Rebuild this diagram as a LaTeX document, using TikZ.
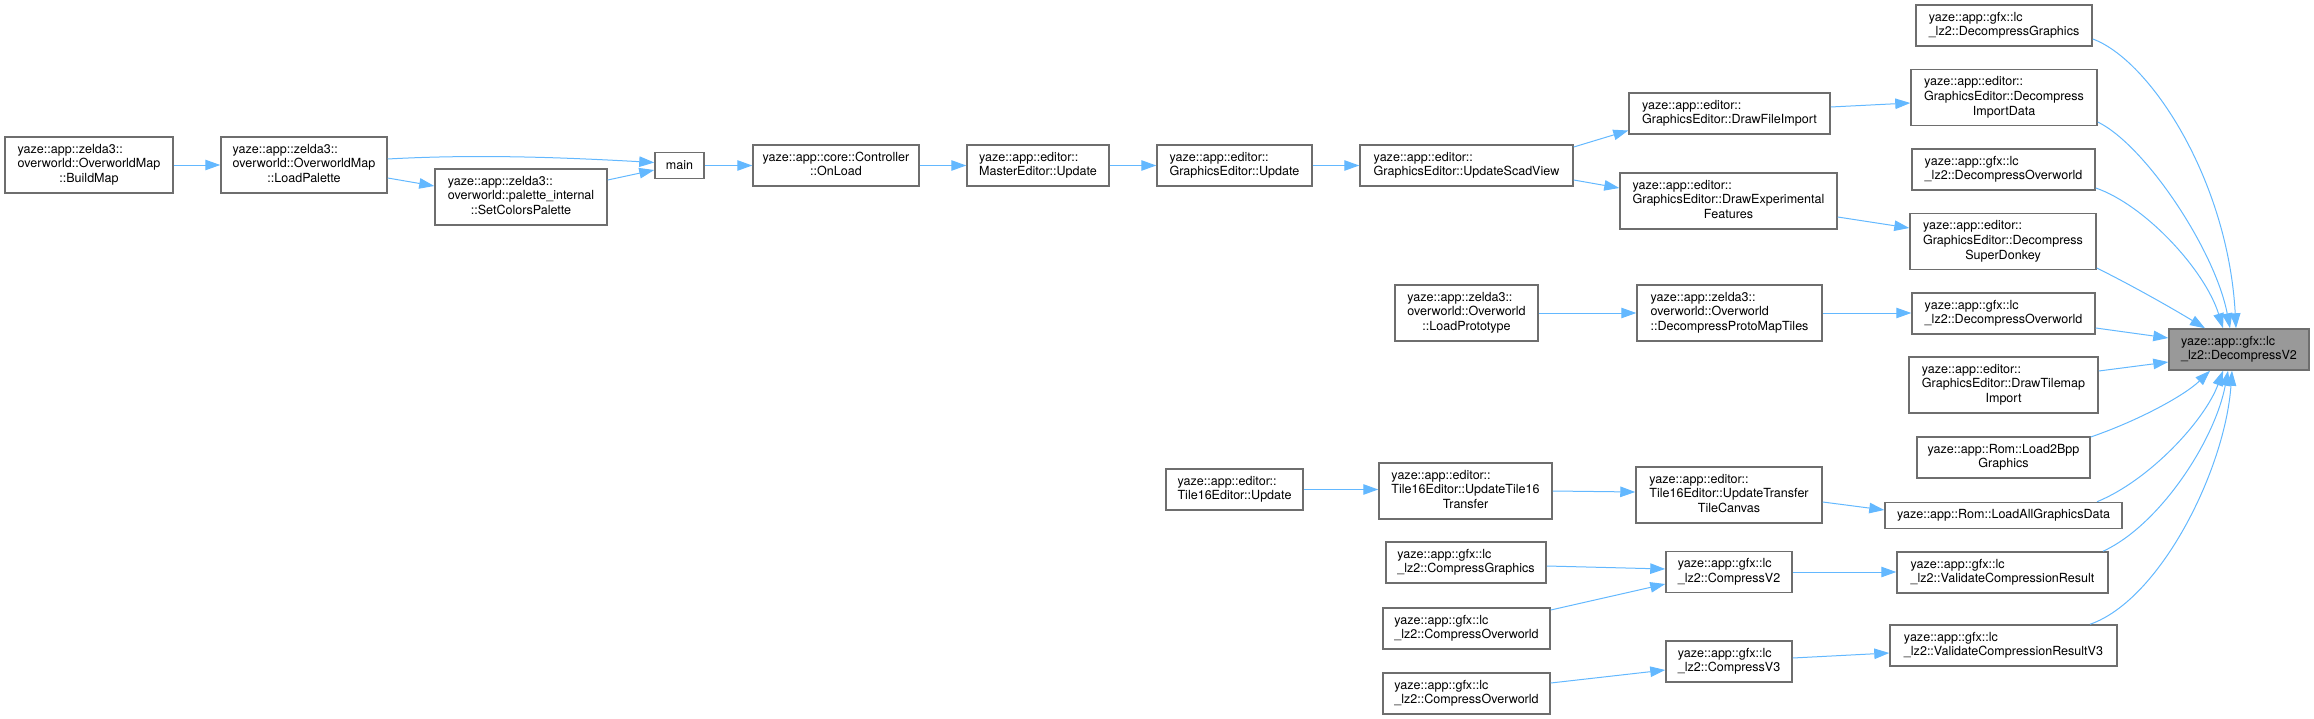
\documentclass[tikz,border=0pt]{standalone}
\usepackage{fontspec}
\setmainfont{TeX Gyre Heros}
\usetikzlibrary{arrows.meta,calc}
\definecolor{boxgray}{RGB}{110,110,110}
\definecolor{hlfill}{RGB}{153,153,153}
\definecolor{edgecol}{RGB}{99,184,255}
\newcommand\twol[2]{\begin{tabular}{@{}l@{}}#1\\\multicolumn{1}{@{}c@{}}{#2}\end{tabular}}
\tikzset{
  box/.style={draw=boxgray, fill=white, line width=1.5bp, inner sep=0pt, align=center,
    font=\fontsize{12.6}{15}\selectfont},
  hl/.style={box, fill=hlfill},
  edge/.style={draw=edgecol, line width=1bp, -{Triangle[length=15bp,width=10.5bp]}},
  sz/.style n args={2}{minimum width=#1bp, minimum height=#2bp}
}
\begin{document}
\begin{tikzpicture}[x=1bp,y=-1bp]
\path[use as bounding box] (0,0) rectangle (2314,719);
% nodes
\node[box, sz={168}{56}] (buildmap) at (89,165) {\twol{yaze::app::zelda3::\\overworld::OverworldMap}{::BuildMap}};
\node[box, sz={166}{56}] (loadpal) at (304,165) {\twol{yaze::app::zelda3::\\overworld::OverworldMap}{::LoadPalette}};
\node[box, sz={172}{56}] (setcol) at (521,197) {\twol{yaze::app::zelda3::\\overworld::palette\_internal}{::SetColorsPalette}};
\node[box, sz={49}{26}] (main) at (679.5,165.5) {main};
\node[box, sz={166}{41}] (onload) at (836,165.5) {\twol{yaze::app::core::Controller}{::OnLoad}};
\node[box, sz={142}{41}] (master) at (1038,165.5) {\twol{yaze::app::editor::}{MasterEditor::Update}};
\node[box, sz={155}{41}] (gedupd) at (1234.5,165.5) {\twol{yaze::app::editor::}{GraphicsEditor::Update}};
\node[box, sz={213}{41}] (scad) at (1466.5,165.5) {\twol{yaze::app::editor::}{GraphicsEditor::UpdateScadView}};
\node[box, sz={201}{41}] (fileimp) at (1729.5,113.5) {\twol{yaze::app::editor::}{GraphicsEditor::DrawFileImport}};
\node[box, sz={217}{56}] (exper) at (1728.5,201) {\twol{yaze::app::editor::\\GraphicsEditor::DrawExperimental}{Features}};
\node[box, sz={176}{41}] (dgfx) at (2004,25.5) {\twol{yaze::app::gfx::lc}{\_lz2::DecompressGraphics}};
\node[box, sz={186}{56}] (dimport) at (2004,97.5) {\twol{yaze::app::editor::\\GraphicsEditor::Decompress}{ImportData}};
\node[box, sz={183}{41}] (dow1) at (2003.5,169.5) {\twol{yaze::app::gfx::lc}{\_lz2::DecompressOverworld}};
\node[box, sz={186}{56}] (donkey) at (2003,241.5) {\twol{yaze::app::editor::\\GraphicsEditor::Decompress}{SuperDonkey}};
\node[box, sz={183}{41}] (dow2) at (2003.5,313.5) {\twol{yaze::app::gfx::lc}{\_lz2::DecompressOverworld}};
\node[hl, sz={140}{41}] (v2) at (2239,349.5) {\twol{yaze::app::gfx::lc}{\_lz2::DecompressV2}};
\node[box, sz={189}{56}] (tilemap) at (2003.5,385) {\twol{yaze::app::editor::\\GraphicsEditor::DrawTilemap}{Import}};
\node[box, sz={173}{41}] (load2bpp) at (2003.5,457.5) {\twol{yaze::app::Rom::Load2Bpp}{Graphics}};
\node[box, sz={237}{26}] (loadall) at (2003.5,515.5) {yaze::app::Rom::LoadAllGraphicsData};
\node[box, sz={211}{41}] (valid) at (2002.5,572.5) {\twol{yaze::app::gfx::lc}{\_lz2::ValidateCompressionResult}};
\node[box, sz={227}{41}] (valid3) at (2003.5,645.5) {\twol{yaze::app::gfx::lc}{\_lz2::ValidateCompressionResultV3}};
\node[box, sz={143}{56}] (proto) at (1466.5,313) {\twol{yaze::app::zelda3::\\overworld::Overworld}{::LoadPrototype}};
\node[box, sz={185}{56}] (dpmt) at (1729.5,313) {\twol{yaze::app::zelda3::\\overworld::Overworld}{::DecompressProtoMapTiles}};
\node[box, sz={137}{41}] (t16upd) at (1234.5,489.5) {\twol{yaze::app::editor::}{Tile16Editor::Update}};
\node[box, sz={173}{56}] (t16tr) at (1465.5,491) {\twol{yaze::app::editor::\\Tile16Editor::UpdateTile16}{Transfer}};
\node[box, sz={186}{56}] (ttc) at (1729,495) {\twol{yaze::app::editor::\\Tile16Editor::UpdateTransfer}{TileCanvas}};
\node[box, sz={160}{41}] (cgfx) at (1466,562.5) {\twol{yaze::app::gfx::lc}{\_lz2::CompressGraphics}};
\node[box, sz={126}{41}] (cv2) at (1729,572) {\twol{yaze::app::gfx::lc}{\_lz2::CompressV2}};
\node[box, sz={167}{41}] (cow1) at (1466.5,628.5) {\twol{yaze::app::gfx::lc}{\_lz2::CompressOverworld}};
\node[box, sz={126}{41}] (cv3) at (1729,661.5) {\twol{yaze::app::gfx::lc}{\_lz2::CompressV3}};
\node[box, sz={167}{41}] (cow2) at (1466.5,693.5) {\twol{yaze::app::gfx::lc}{\_lz2::CompressOverworld}};
% edges
\draw[edge] (buildmap.east) -- (loadpal.west);
\draw[edge] ($(loadpal.east)+(0,-6)$) .. controls ($(loadpal.east)+(90,-11)$) and ($(main.west)+(-90,-8)$) .. ($(main.west)+(0,-3)$);
\draw[edge] ($(loadpal.east)+(0,13)$) -- ($(setcol.west)+(0,-11)$);
\draw[edge] ($(setcol.east)+(0,-17)$) -- ($(main.west)+(0,4.5)$);
\draw[edge] (main.east) -- (onload.west);
\draw[edge] (onload.east) -- (master.west);
\draw[edge] (master.east) -- (gedupd.west);
\draw[edge] (gedupd.east) -- (scad.west);
\draw[edge] ($(scad.east)+(0,-18.5)$) -- ($(fileimp.west)+(0,17)$);
\draw[edge] ($(scad.east)+(0,14.5)$) -- ($(exper.west)+(0,-13)$);
\draw[edge] ($(fileimp.east)+(0,-6.5)$) -- ($(dimport.west)+(0,5.5)$);
\draw[edge] ($(exper.east)+(0,16)$) -- ($(donkey.west)+(0,-13.5)$);
\draw[edge] (proto.east) -- (proto.east -| dpmt.west);
\draw[edge] (dpmt.east) -- (dpmt.east -| dow2.west);
\draw[edge] (t16upd.east) -- (t16upd.east -| t16tr.west);
\draw[edge] (t16tr.east) -- ($(ttc.west)+(0,-3)$);
\draw[edge] ($(ttc.east)+(0,7)$) -- ($(loadall.west)+(0,-5.5)$);
\draw[edge] ($(cgfx.east)+(0,3.5)$) -- ($(cv2.west)+(0,-3)$);
\draw[edge] ($(cow1.east)+(0,-18.5)$) -- ($(cv2.west)+(0,12)$);
\draw[edge] (cv2.east) -- (cv2.east -| valid.west);
\draw[edge] ($(cow2.east)+(0,-10.5)$) -- ($(cv3.west)+(0,8.5)$);
\draw[edge] ($(cv3.east)+(0,-3.5)$) -- ($(valid3.west)+(0,7.5)$);
% into DecompressV2
\draw[edge] ($(dgfx.east)+(0,13.5)$) .. controls (2150,60) and (2228,180) .. ($(v2.north)+(-3,0)$);
\draw[edge] ($(dimport.east)+(0,24.5)$) .. controls (2145,145) and (2215,250) .. ($(v2.north)+(-9,0)$);
\draw[edge] ($(dow1.east)+(0,18.5)$) .. controls (2145,205) and (2205,270) .. ($(v2.north)+(-16,0)$);
\draw[edge] ($(donkey.east)+(0,26.5)$) .. controls (2135,287) and (2175,310) .. ($(v2.north)+(-34,0)$);
\draw[edge] ($(dow2.east)+(0,14.5)$) -- ($(v2.west)+(0,-11.5)$);
\draw[edge] ($(tilemap.east)+(0,-14)$) -- ($(v2.west)+(0,12.5)$);
\draw[edge] ($(load2bpp.east)+(0,-20.5)$) .. controls (2140,420) and (2185,395) .. ($(v2.south)+(-29,0)$);
\draw[edge] ($(loadall.north)+(93.5,0)$) .. controls (2150,480) and (2205,420) .. ($(v2.south)+(-16,0)$);
\draw[edge] ($(valid.north)+(100.5,0)$) .. controls (2160,525) and (2215,440) .. ($(v2.south)+(-11,0)$);
\draw[edge] ($(valid3.north)+(86.5,0)$) .. controls (2160,600) and (2225,470) .. ($(v2.south)+(-7,0)$);
\end{tikzpicture}
\end{document}
